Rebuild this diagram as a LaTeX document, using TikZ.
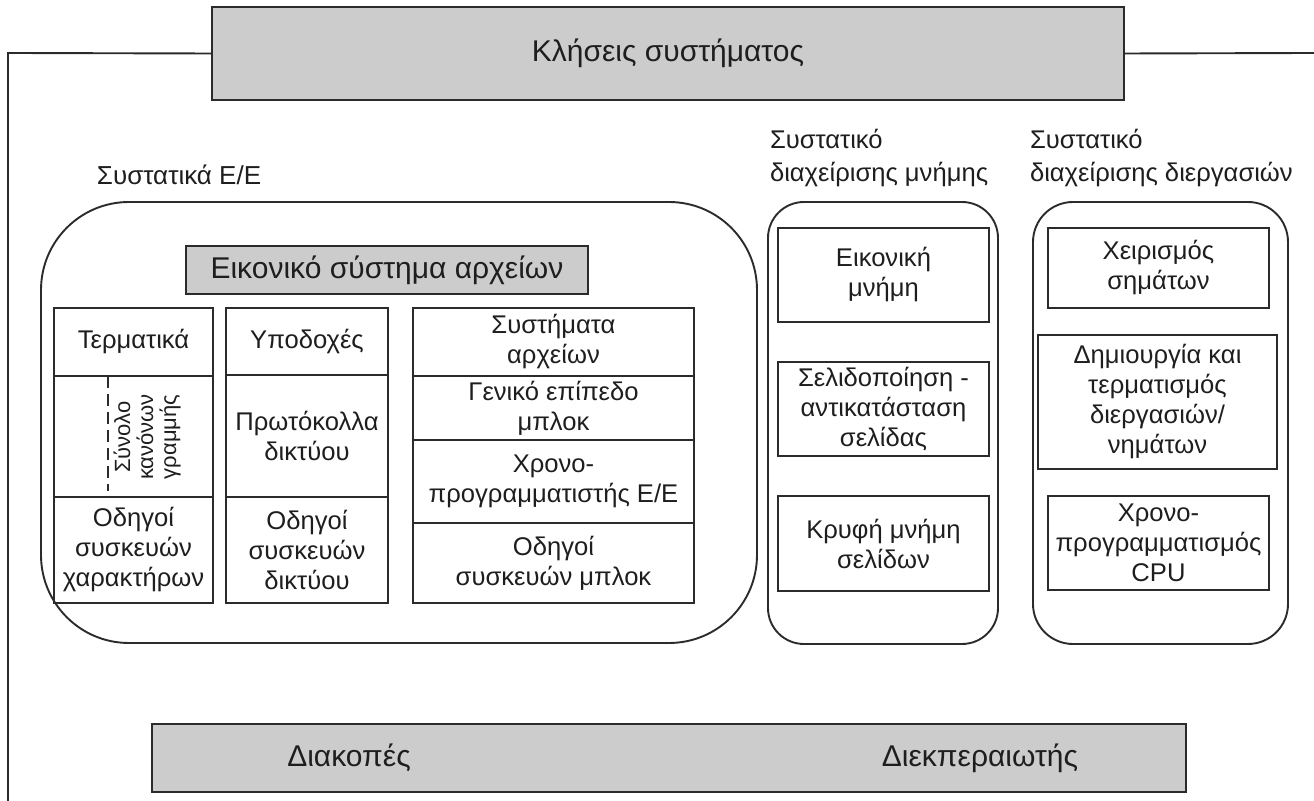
\documentclass[tikz,border=0pt]{standalone}
\usepackage{fontspec}
\setmainfont{Liberation Sans}
\definecolor{fillgray}{HTML}{CCCCCC}
\definecolor{linegray}{HTML}{2B2B2B}
\definecolor{txt}{HTML}{1E1E1E}
\begin{document}
\begin{tikzpicture}[x=0.5pt,y=-0.5pt,
  every node/.style={inner sep=0pt, outer sep=0pt, text=txt},
  ln/.style={draw=linegray, line width=0.95pt},
  graybar/.style={ln, fill=fillgray, font=\fontsize{15}{18}\selectfont},
  cell/.style={ln, align=center, font=\fontsize{12.8}{15}\selectfont},
  lbl/.style={align=left, anchor=west, font=\fontsize{12.8}{16.5}\selectfont},
  group/.style={ln, rounded corners=#1},
]
\useasboundingbox (0,0) rectangle (1314,801);

% system calls bar and frame
\node[graybar, minimum width=456pt, minimum height=46.5pt] (sys) at (668,53.5) {Κλήσεις συστήματος};
\coordinate (fl) at (8,53);
\coordinate (fb) at (8,801);
\coordinate (fr) at (1314,53);
\draw[ln] (sys.west) -- (fl) -- (fb);
\draw[ln] (sys.east) -- (fr);

% bottom bar
\node[graybar, minimum width=517pt, minimum height=34pt] (bot) at (669,758) {};
\node[font=\fontsize{15}{18}\selectfont] (intr) at (349,758) {Διακοπές};
\node[font=\fontsize{15}{18}\selectfont] (disp) at (980,758) {Διεκπεραιωτής};

% I/O group
\node[lbl, font=\fontsize{13}{16.5}\selectfont] (iolbl) at (97,175) {Συστατικά Ε/Ε};
\node[group=44pt, minimum width=358pt, minimum height=220.5pt] (io) at (399,422.5) {};
\node[graybar, minimum width=201pt, minimum height=24pt] (vfs) at (387,270) {Εικονικό σύστημα αρχείων};

% column 1
\node[cell, minimum width=79.5pt, minimum height=34pt] (term) at (133.5,342) {Τερματικά};
\node[cell, minimum width=79.5pt, minimum height=60.5pt] (ldisc) at (133.5,436.5) {};
\node[cell, minimum width=79.5pt, minimum height=53pt] (chdrv) at (133.5,550) {Οδηγοί\\συσκευών\\χαρακτήρων};
\coordinate (dtop) at (108,376);
\coordinate (dbot) at (108,491);
\draw[ln, dash pattern=on 6pt off 3pt] (dtop) -- (dbot);
\node[rotate=90, align=center, font=\fontsize{11}{11.5}\selectfont] (ldtxt) at (147,437) {Σύνολο\\κανόνων\\γραμμής};

% column 2
\node[cell, minimum width=81pt, minimum height=33.5pt] (sock) at (307,341.5) {Υποδοχές};
\node[cell, minimum width=81pt, minimum height=61pt] (proto) at (307,436) {Πρωτόκολλα\\δικτύου};
\node[cell, minimum width=81pt, minimum height=53pt] (netdrv) at (307,550) {Οδηγοί\\συσκευών\\δικτύου};

% column 3
\node[cell, minimum width=140.5pt, minimum height=34pt] (fs) at (553.5,342) {Συστήματα\\αρχείων};
\node[cell, minimum width=140.5pt, minimum height=32pt] (gbl) at (553.5,408) {Γενικό επίπεδο\\μπλοκ};
\node[cell, minimum width=140.5pt, minimum height=41.5pt] (iosch) at (553.5,481.5) {Χρονο-\\προγραμματιστής Ε/Ε};
\node[cell, minimum width=140.5pt, minimum height=40pt] (blkdrv) at (553.5,563) {Οδηγοί\\συσκευών μπλοκ};

% memory group
\node[lbl] (memlbl) at (770,158.5) {Συστατικό\\διαχείρισης μνήμης};
\node[group=18pt, minimum width=115pt, minimum height=221pt] (mem) at (883,423) {};
\node[cell, minimum width=105.5pt, minimum height=47pt] (vm) at (883.5,275) {Εικονική\\μνήμη};
\node[cell, minimum width=105.5pt, minimum height=47pt] (paging) at (883.5,409) {Σελιδοποίηση -\\αντικατάσταση\\σελίδας};
\node[cell, minimum width=105.5pt, minimum height=47.5pt] (pcache) at (883.5,543.5) {Κρυφή μνήμη\\σελίδων};

% process group
\node[lbl] (proclbl) at (1030,158.5) {Συστατικό\\διαχείρισης διεργασιών};
\node[group=20pt, minimum width=127.5pt, minimum height=221pt] (proc) at (1160.5,423) {};
\node[cell, minimum width=110.5pt, minimum height=40pt] (sig) at (1158.5,268) {Χειρισμός\\σημάτων};
\node[cell, minimum width=119.5pt, minimum height=67pt] (pcreate) at (1157.5,402) {Δημιουργία και\\τερματισμός\\διεργασιών/\\νημάτων};
\node[cell, minimum width=110.5pt, minimum height=47pt] (cpusch) at (1158.5,543) {Χρονο-\\προγραμματισμός\\CPU};
\end{tikzpicture}
\end{document}
